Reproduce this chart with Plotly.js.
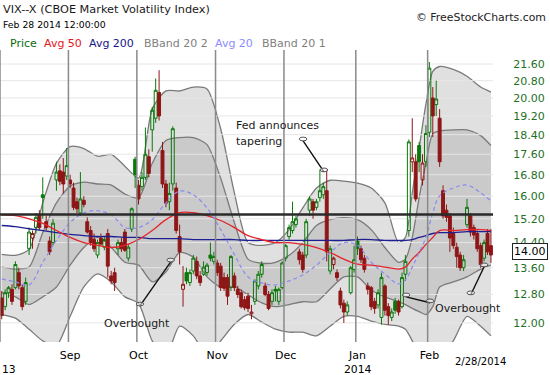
<!DOCTYPE html>
<html><head><meta charset="utf-8">
<script src="https://cdn.plot.ly/plotly-3.0.1.min.js"></script>
<style>html,body{margin:0;padding:0;background:#fff}#chart{width:550px;height:375px}</style>
</head><body><div id="chart"></div>
<script>
// ---- trading calendar (categories) ----
const firstDay = '2013-08-05', lastDay = '2014-02-28';
const holidays = ['2013-09-02','2013-11-28','2013-12-25','2014-01-01','2014-01-20','2014-02-17'];
function tradingDays(){const out=[];let d=new Date(firstDay+'T00:00:00Z');const end=new Date(lastDay+'T00:00:00Z');
 while(d<=end){const w=d.getUTCDay();const s=d.toISOString().slice(0,10);if(w!==0&&w!==6&&!holidays.includes(s))out.push(s);d.setUTCDate(d.getUTCDate()+1);}return out;}
const dates = tradingDays();

// ---- daily OHLC ----
const open = [
12.70,12.45,12.85,12.95,13.00,13.45,13.00,12.60,14.20,14.55,
14.90,15.35,16.05,15.10,14.45,14.40,16.60,16.95,16.90,16.75,
16.60,16.30,15.80,15.40,15.85,15.10,14.80,14.50,14.00,14.55,
14.25,14.70,13.35,13.45,14.20,14.40,14.75,13.90,14.85,17.40,
16.40,16.35,16.70,17.50,18.60,19.10,20.25,17.75,16.45,15.80,
16.45,16.30,14.60,12.95,13.45,13.15,13.50,13.80,13.35,13.40,
13.45,14.00,13.80,13.75,13.65,13.30,13.30,13.00,13.35,12.95,
12.85,12.65,12.75,12.25,12.60,13.05,13.40,13.05,12.80,12.60,
12.95,12.60,13.00,13.90,14.60,14.80,15.00,14.10,14.00,14.00,
15.50,15.80,15.60,15.95,16.05,16.20,13.50,13.70,13.45,12.90,
12.55,12.30,12.85,13.55,14.45,14.20,13.90,13.05,13.00,12.60,
12.50,12.15,13.05,12.45,12.15,12.60,12.60,12.45,13.40,14.80,
17.30,17.30,17.95,16.60,17.30,18.50,20.00,19.70,19.10,16.20,
15.50,15.30,14.70,14.25,14.00,13.60,15.00,15.30,14.90,14.70,
14.30,13.90,14.70,14.30];
const high = [
12.90,12.95,13.05,13.10,13.80,13.60,13.10,13.30,14.90,14.80,
15.40,15.50,16.70,15.30,14.60,15.20,17.30,17.20,17.45,17.85,
16.80,16.50,15.95,16.90,16.00,15.25,14.95,14.70,14.50,14.70,
14.60,14.85,13.50,13.60,14.50,14.55,14.85,14.35,15.60,17.50,
16.60,16.90,18.70,17.80,19.60,20.90,21.30,18.10,16.60,16.50,
18.75,16.50,15.00,13.65,13.60,13.55,14.00,13.95,13.50,13.80,
13.75,14.40,14.10,13.85,13.75,13.45,13.40,14.00,13.45,13.05,
12.95,12.75,12.85,12.50,13.25,13.50,13.80,13.15,12.90,12.95,
13.05,13.00,13.80,14.35,15.00,15.80,15.30,14.20,14.10,15.20,
16.00,15.90,15.90,17.00,16.50,17.00,14.30,13.95,13.55,13.00,
12.65,12.60,13.65,14.30,14.60,14.30,14.00,13.15,13.05,12.70,
12.95,13.45,13.10,12.55,12.40,12.70,12.65,13.45,14.00,18.20,
19.10,17.60,18.10,17.60,18.80,21.70,20.50,20.80,19.50,16.40,
15.70,15.40,14.90,14.40,14.10,14.00,15.90,15.40,15.00,14.80,
14.40,14.50,14.85,14.85];
const low = [
12.10,12.35,12.70,12.50,12.95,12.95,12.35,12.50,14.00,14.20,
14.70,14.80,15.20,14.80,14.00,14.30,16.20,16.40,16.10,16.60,
16.30,15.50,15.40,15.30,15.60,14.70,14.30,14.10,13.90,14.30,
14.15,13.30,13.10,12.90,14.00,14.10,14.10,13.80,14.75,16.30,
15.70,16.20,16.60,16.70,17.70,18.90,19.00,16.30,15.60,15.50,
16.20,14.70,13.70,12.45,13.10,13.05,13.40,13.25,13.05,13.35,
13.35,13.80,13.70,13.35,12.90,12.90,12.50,12.90,12.90,12.70,
12.40,12.35,12.30,12.10,12.50,12.95,13.30,12.75,12.35,12.50,
12.60,12.50,12.95,13.80,14.50,14.70,14.90,13.70,13.45,13.90,
15.30,15.20,15.50,15.80,15.90,13.80,13.40,13.55,13.20,12.40,
12.00,12.20,12.80,13.45,14.00,13.75,13.45,12.80,12.35,12.25,
12.40,11.95,12.20,11.95,12.05,12.25,12.20,12.40,13.20,14.60,
16.90,15.80,16.90,16.40,17.10,18.30,18.30,19.20,17.10,15.20,
15.10,14.10,14.20,13.60,13.50,13.50,14.90,14.60,14.50,14.10,
13.60,13.80,14.00,13.75];
const close = [
12.20,12.85,13.00,12.60,13.70,13.05,12.45,13.15,14.75,14.70,
15.25,14.90,15.95,14.90,14.10,15.05,16.90,16.55,16.45,17.15,
16.45,15.60,15.55,15.90,15.70,14.75,14.40,14.20,14.40,14.35,
14.50,13.65,13.20,13.15,14.40,14.20,14.15,14.25,15.55,16.80,
15.90,16.70,17.60,16.85,19.45,20.35,19.20,16.45,15.75,16.10,
18.65,14.80,14.10,13.10,13.20,13.45,13.90,13.35,13.15,13.62,
13.68,13.90,13.95,13.45,13.00,12.98,12.75,13.95,13.00,12.80,
12.45,12.42,12.40,12.30,13.20,13.40,13.70,12.80,12.40,12.85,
12.90,12.95,13.75,14.30,14.90,15.10,15.20,13.85,13.55,15.10,
15.90,15.50,15.80,16.20,16.35,14.10,14.20,13.90,13.30,12.50,
12.30,12.50,13.60,13.85,14.20,13.85,13.55,12.95,12.45,12.40,
12.85,13.30,12.35,12.20,12.30,12.35,12.30,13.30,13.80,18.10,
17.45,15.90,17.30,17.25,18.45,21.40,19.20,19.95,17.30,15.30,
15.25,14.55,14.30,13.95,13.60,13.85,15.60,14.75,14.65,14.20,
13.70,14.40,14.10,14.00];

// ---- indicator readings (sampled on these trading days) ----
const bandDays = [0,4,8,12,16,20,24,28,32,36,40,44,48,52,56,60,64,68,72,76,80,84,88,92,96,100,104,108,112,116,118,120,122,124,126,128,132,136,140,143];
const bbUpper2 = [14.02,13.99,14.18,15.76,17.24,17.91,17.83,17.52,17.59,17.13,16.67,19.51,20.32,20.32,20.50,20.41,18.65,16.12,14.40,14.31,14.40,14.83,15.58,16.30,16.59,16.56,16.48,16.30,15.76,14.40,14.57,16.12,17.83,19.73,21.24,21.48,21.34,21.01,20.50,20.27];
const bbUpper1 = [13.62,13.56,13.62,14.73,15.76,16.37,16.52,16.45,16.41,16.08,15.94,17.24,18.16,18.28,18.28,17.99,16.67,15.07,13.87,13.74,13.77,13.99,14.40,14.97,15.17,15.24,15.17,14.83,14.24,13.77,13.87,14.57,15.94,17.24,18.44,18.55,18.60,18.60,18.36,17.95];
const avg20    = [13.26,13.17,13.08,13.77,14.47,15.07,15.41,15.48,15.34,14.90,14.90,15.17,15.76,16.19,16.05,15.58,14.83,14.02,13.32,13.14,13.08,13.20,13.38,13.68,14.08,14.40,14.31,13.77,13.41,13.11,13.23,13.62,14.08,14.57,15.41,16.01,16.30,16.41,16.12,15.83];
const bbLower1 = [12.85,12.73,12.51,12.73,13.02,13.68,14.24,14.57,14.24,13.77,13.68,13.17,13.47,14.08,13.93,13.32,13.02,13.02,12.79,12.56,12.45,12.51,12.59,12.59,12.96,13.32,13.32,12.93,12.73,12.59,12.51,12.40,12.31,12.23,12.45,13.02,13.17,13.32,13.56,13.68];
const bbLower2 = [12.23,12.13,11.83,11.52,11.40,12.18,13.02,13.41,13.17,12.73,12.54,11.52,11.14,11.91,11.65,11.14,11.52,11.96,12.23,12.02,11.83,11.75,11.75,11.65,11.91,12.18,12.18,12.05,11.96,11.91,11.83,11.52,11.14,10.89,10.89,11.14,11.52,12.18,11.91,11.65];
const avg50    = [15.34,15.31,15.20,15.04,14.80,14.57,14.40,14.31,14.24,14.31,14.50,14.80,15.17,15.41,15.41,15.31,15.14,14.90,14.63,14.50,14.40,14.40,14.34,14.24,14.08,13.87,13.71,13.68,13.62,13.56,13.62,13.87,14.08,14.34,14.57,14.80,14.80,14.83,14.83,14.80];
const avg200   = [14.97,14.93,14.86,14.80,14.73,14.67,14.63,14.60,14.60,14.57,14.57,14.53,14.53,14.53,14.50,14.50,14.50,14.50,14.47,14.47,14.47,14.47,14.47,14.47,14.47,14.47,14.50,14.50,14.47,14.47,14.47,14.50,14.57,14.63,14.70,14.73,14.73,14.76,14.76,14.76];

// ---- axis labels / levels ----
const yTicks = [12.00,12.80,13.60,14.40,15.20,16.00,16.80,17.60,18.40,19.20,20.00,20.80,21.60];
const monthLabels = ['Sep','Oct','Nov','Dec','Jan','Feb'];
const levelLine = 15.35;
const lastPrice = 14.00;

// ---- helpers ----
const pos = dates.map((d,i)=>i);
const monthStarts = [];
for(let i=1;i<dates.length;i++){ if(dates[i].slice(5,7)!==dates[i-1].slice(5,7)) monthStarts.push(i); }
const yearStart = pos.find(i=>dates[i].startsWith('2014'));
const xRange = [-0.5, dates.length - 0.4];
const bandX = bandDays.map(i=>pos[i]);
const yRange = [Math.log10(11.49), Math.log10(22.30)];

const GREEN='#0b780b', RED='#8e1616', FONT='DejaVu Sans, Verdana, sans-serif';

function candleSet(flagFn, color){
  const idx = pos.filter(i=>flagFn(i));
  return {type:'candlestick', xaxis:'x', yaxis:'y3',
    x: idx, open: idx.map(i=>open[i]), high: idx.map(i=>high[i]), low: idx.map(i=>low[i]), close: idx.map(i=>close[i]),
    increasing:{line:{color:color,width:1}, fillcolor:'rgba(0,0,0,0)'},
    decreasing:{line:{color:color,width:1}, fillcolor:color},
    whiskerwidth:0, showlegend:false, hoverinfo:'skip'};
}
const isUp = i => i===0 ? close[i]>=open[i] : close[i]>=close[i-1];

const bandLine = {color:'#7a7a7a', width:1.3, shape:'spline', smoothing:0.7};
const traces = [
  {x:bandX, y:bbUpper2, mode:'lines', line:bandLine, xaxis:'x', yaxis:'y', hoverinfo:'skip'},
  {x:bandX, y:bbLower2, mode:'lines', line:bandLine, fill:'tonexty', fillcolor:'#e0e0e0', xaxis:'x', yaxis:'y', hoverinfo:'skip'},
  {x:bandX, y:bbUpper1, mode:'lines', line:bandLine, xaxis:'x', yaxis:'y', hoverinfo:'skip'},
  {x:bandX, y:bbLower1, mode:'lines', line:bandLine, fill:'tonexty', fillcolor:'#cacaca', xaxis:'x', yaxis:'y', hoverinfo:'skip'},
  // gridlines above the band fills
  {x: yTicks.flatMap(()=>[xRange[0], xRange[1], null]), y: yTicks.flatMap(t=>[t,t,null]), mode:'lines',
   line:{color:'#e6e6e6', width:1}, xaxis:'x', yaxis:'y2', hoverinfo:'skip', connectgaps:false},
  candleSet(i=>isUp(i), GREEN),
  candleSet(i=>!isUp(i), RED),
  {x:bandX, y:avg200, mode:'lines', line:{color:'#1f1f94', width:1.3, shape:'spline'}, xaxis:'x', yaxis:'y3', hoverinfo:'skip'},
  {x:bandX, y:avg50, mode:'lines', line:{color:'#e3242b', width:1.3, shape:'spline'}, xaxis:'x', yaxis:'y3', hoverinfo:'skip'},
  {x:bandX, y:avg20, mode:'lines', line:{color:'#8a8af2', width:1.2, dash:'4px,3px', shape:'spline'}, xaxis:'x', yaxis:'y3', hoverinfo:'skip'}
];

// ---- layout ----
const W=493, T=50, B=342;
const px = x => x/W, py = y => (B-y)/(B-T);
const shapes = [];
[0, ...monthStarts].forEach(i=>{
  shapes.push({type:'line', xref:'x', yref:'paper', x0:i-0.5, x1:i-0.5, y0:0, y1:1, line:{color:'#8a8a8a', width:1.5}});
});
shapes.push({type:'line', xref:'paper', yref:'y', x0:0, x1:1, y0:levelLine, y1:levelLine, line:{color:'#2a2a2a', width:2.6}});
// annotation pointers: [x0,y0,x1,y1] in (trading-day position, price)
const pointers = [[40.4,12.47,49.4,13.78],[88.1,18.14,94.2,16.91],[118.2,12.73,125.2,12.56],[137.1,12.79,141.0,13.63]];
pointers.forEach(p=>{
  shapes.push({type:'line', xref:'x', yref:'y', x0:p[0], y0:p[1], x1:p[2], y1:p[3], line:{color:'#111', width:1.4}});
  [[p[0],p[1]],[p[2],p[3]]].forEach(c=>shapes.push({type:'circle', xref:'x', yref:'y', xsizemode:'pixel', ysizemode:'pixel',
    xanchor:c[0], yanchor:c[1], x0:-3.8, x1:3.8, y0:-3.8, y1:3.8, line:{color:'#555', width:1}, fillcolor:'rgba(255,255,255,0.5)'}));
});

function txt(text, x, y, opts){ return Object.assign({text, xref:'paper', yref:'paper', x:px(x), y:py(y), showarrow:false,
  xanchor:'left', yanchor:'middle', font:{family:FONT, size:11, color:'#1a1a1a'}}, opts||{}); }
const legendItems = [['Price',8,'#0b6e0b'],['Avg 50',42,'#e8141e'],['Avg 200',87,'#15158a'],['BBand 20 2',142,'#808080'],['Avg 20',213,'#8c8cff'],['BBand 20 1',260,'#808080']];
const annotations = [
  txt('VIX--X (CBOE Market Volatility Index)', 1, 10, {font:{family:FONT,size:11.3,color:'#1a1a1a'}}),
  txt('Feb 28 2014 12:00:00', 1, 25, {font:{family:FONT,size:9.3,color:'#000'}}),
  txt('© FreeStockCharts.com', 548, 17, {xanchor:'right', font:{family:FONT,size:10.9,color:'#222'}}),
  ...legendItems.map(l=>txt(l[0], l[1], 43, {font:{family:FONT,size:11,color:l[2]}})),
  txt('Overbought', 136.5, 323, {xanchor:'center'}),
  txt('Fed announces', 234, 125),
  txt('tapering', 234, 141),
  txt('Overbought', 468, 308, {xanchor:'center'}),
  txt('13', 0, 369, {font:{family:FONT,size:10.8,color:'#000'}}),
  {text:dates[yearStart].slice(0,4), xref:'x', yref:'paper', x:pos[yearStart], y:py(369), showarrow:false,
   xanchor:'center', yanchor:'middle', font:{family:FONT,size:10.8,color:'#000'}},
  txt('2/28/2014', 480, 361, {xanchor:'center', font:{family:FONT,size:10,color:'#000'}}),
  {text: lastPrice.toFixed(2), xref:'paper', yref:'y', x:px(529.5), y:Math.log10(lastPrice), yshift:4, showarrow:false,
   xanchor:'center', yanchor:'middle', bgcolor:'#fff', bordercolor:'#222', borderwidth:1, borderpad:1,
   font:{family:FONT, size:11, color:'#000'}}
];

const yBase = {type:'log', range:yRange, fixedrange:true};
const layout = {
  width:550, height:375, margin:{l:0, r:550-W, t:T, b:375-B},
  paper_bgcolor:'#fff', plot_bgcolor:'#fff', showlegend:false,
  boxgap:0.15, boxgroupgap:0, boxmode:'overlay',
  xaxis:{type:'linear', range:xRange, showgrid:false, zeroline:false, showline:false,
    tickvals:monthStarts, ticktext:monthLabels, ticks:'outside', ticklen:3, tickcolor:'rgba(0,0,0,0)',
    tickfont:{family:FONT, size:11, color:'#000'}, rangeslider:{visible:false}, fixedrange:true},
  yaxis:Object.assign({}, yBase, {side:'right', showgrid:false, zeroline:false, showline:false,
    tickvals:yTicks, ticktext:yTicks.map(v=>v.toFixed(2)), ticks:'outside', ticklen:17, tickcolor:'rgba(0,0,0,0)',
    tickfont:{family:FONT, size:11, color:'#1f6f1f'}}),
  yaxis2:Object.assign({}, yBase, {overlaying:'y', visible:false}),
  yaxis3:Object.assign({}, yBase, {overlaying:'y', visible:false}),
  shapes, annotations
};
Plotly.newPlot('chart', traces, layout, {staticPlot:true, displayModeBar:false});
</script>
</body></html>
